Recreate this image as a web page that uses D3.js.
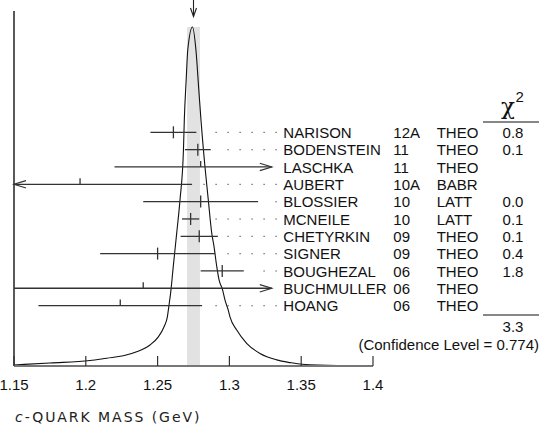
<!DOCTYPE html>
<html>
<head>
<meta charset="utf-8">
<script src="https://cdn.jsdelivr.net/npm/d3@7"></script>
<style>
  html, body { margin: 0; padding: 0; background: #fff; }
  svg { display: block; }
  text { font-family: "Liberation Sans", Arial, sans-serif; fill: #111; }
</style>
</head>
<body>
<div id="chart"></div>
<script>
// ---------------- data ----------------
const names  = ["NARISON", "BODENSTEIN", "LASCHKA", "AUBERT", "BLOSSIER", "MCNEILE",
                "CHETYRKIN", "SIGNER", "BOUGHEZAL", "BUCHMULLER", "HOANG"];
const years  = ["12A", "11", "11", "10A", "10", "10", "09", "09", "06", "06", "06"];
const techs  = ["THEO", "THEO", "THEO", "BABR", "LATT", "LATT", "THEO", "THEO", "THEO", "THEO", "THEO"];
const values = [1.261, 1.278, 1.280, 1.196, 1.280, 1.273, 1.279, 1.250, 1.295, 1.240, 1.224];
const errors = [0.016, 0.009, 0.060, 0.078, 0.040, 0.006, 0.013, 0.040, 0.015, 0.090, 0.057];
const chi2   = ["0.8", "0.1", "", "", "0.0", "0.1", "0.1", "0.4", "1.8", "", ""];
const chi2Total = "3.3";
const confidenceLevel = "0.774";
const average = 1.275;
const averageError = 0.0045;
const xTicks = [1.15, 1.2, 1.25, 1.3, 1.35, 1.4];
const xTickLabels = ["1.15", "1.2", "1.25", "1.3", "1.35", "1.4"];
// ideogram curve (mass in GeV, relative height)
const curveMass = [1.1500, 1.1751, 1.2029, 1.2146, 1.2261, 1.2354, 1.2447, 1.2505, 1.2545,
                   1.2568, 1.2579, 1.2593, 1.2609, 1.2633, 1.2656, 1.2680, 1.2686, 1.2699,
                   1.2710, 1.2743, 1.2767, 1.2787, 1.2802, 1.2830, 1.2853, 1.2877, 1.2893,
                   1.2912, 1.2928, 1.2953, 1.2969, 1.2992, 1.3004, 1.3051, 1.3120, 1.3213,
                   1.3329, 1.3422, 1.3506, 1.3749, 1.4000];
const curveHeight = [0.003, 0.009, 0.016, 0.023, 0.030, 0.042, 0.062, 0.086, 0.116,
                     0.145, 0.178, 0.224, 0.293, 0.392, 0.490, 0.637, 0.726, 0.844,
                     0.932, 1.000, 0.932, 0.814, 0.726, 0.587, 0.490, 0.392, 0.352,
                     0.293, 0.254, 0.224, 0.195, 0.165, 0.145, 0.106, 0.067, 0.037,
                     0.018, 0.010, 0.005, 0.0015, 0.001];
const clipMax = 1.3295;   // error bars beyond this are drawn as arrows

// ---------------- layout ----------------
const W = 546, H = 429;
const x = d3.scaleLinear().domain([1.15, 1.4]).range([14, 373]);
const yCurve = d3.scaleLinear().domain([0, 1]).range([366, 27]);
const yRow = d3.scaleLinear().domain([0, 1]).range([132.3, 149.63]);
const baseY = 366;

const svg = d3.select("#chart").append("svg").attr("width", W).attr("height", H);

// shaded average band
svg.append("rect")
  .attr("x", x(average - averageError))
  .attr("width", x(average + averageError) - x(average - averageError))
  .attr("y", yCurve(1))
  .attr("height", baseY - yCurve(1))
  .attr("fill", "#e2e2e2");

// ideogram curve
const curvePts = curveMass.map((m, i) => [m, curveHeight[i]]);
svg.append("path")
  .datum(curvePts)
  .attr("fill", "none")
  .attr("stroke", "#111")
  .attr("stroke-width", 1.1)
  .attr("d", d3.line().x(d => x(d[0])).y(d => yCurve(d[1])).curve(d3.curveMonotoneX));

// arrow at top pointing to average
const ax = x(average);
svg.append("line").attr("x1", ax).attr("x2", ax).attr("y1", 0).attr("y2", 16)
  .attr("stroke", "#222").attr("stroke-width", 1.1);
svg.append("path")
  .attr("d", `M${ax - 3},${8} L${ax},${16.5} L${ax + 3},${8}`)
  .attr("fill", "none").attr("stroke", "#222").attr("stroke-width", 1.1);

// axes
svg.append("line").attr("x1", x(1.15)).attr("x2", x(1.15)).attr("y1", 11).attr("y2", baseY)
  .attr("stroke", "#222").attr("stroke-width", 1.5);
svg.append("line").attr("x1", x(1.15)).attr("x2", x(1.4)).attr("y1", baseY).attr("y2", baseY)
  .attr("stroke", "#777").attr("stroke-width", 2);
const tickG = svg.append("g");
tickG.selectAll("line").data(xTicks).join("line")
  .attr("x1", d => x(d)).attr("x2", d => x(d))
  .attr("y1", baseY - 10).attr("y2", baseY)
  .attr("stroke", "#333").attr("stroke-width", 1.2);
tickG.selectAll("text").data(xTicks).join("text")
  .attr("x", d => x(d)).attr("y", 389.5)
  .attr("text-anchor", "middle")
  .attr("font-size", 15)
  .text((d, i) => xTickLabels[i]);

// axis title
const title = svg.append("text")
  .attr("x", 15).attr("y", 422)
  .style("font-family", "'DejaVu Sans', sans-serif")
  .style("fill", "#222")
  .attr("font-size", 14)
  .attr("letter-spacing", 1.95);
title.append("tspan").attr("font-style", "italic").text("c");
title.append("tspan").text("-QUARK MASS (GeV)");

// measurements
const rows = svg.append("g");
const dotGrid = d3.range(0, 7).map(k => 204 + 12 * k);
names.forEach((name, i) => {
  const yy = yRow(i);
  const lo = values[i] - errors[i], hi = values[i] + errors[i];
  const x1 = x(Math.max(lo, 1.15)), x2 = x(Math.min(hi, clipMax));
  const g = rows.append("g");
  g.append("line").attr("x1", x1).attr("x2", x2).attr("y1", yy).attr("y2", yy)
    .attr("stroke", "#333").attr("stroke-width", 1.3);
  const included = chi2[i] !== "";
  g.append("line").attr("x1", x(values[i])).attr("x2", x(values[i]))
    .attr("y1", yy - 6).attr("y2", included ? yy + 6 : yy)
    .attr("stroke", "#333").attr("stroke-width", 1.3);
  if (lo < 1.15) {
    g.append("path").attr("d", `M${x1 + 12},${yy - 3.7} L${x1},${yy} L${x1 + 12},${yy + 3.7}`)
      .attr("fill", "none").attr("stroke", "#333").attr("stroke-width", 1.2);
  }
  if (hi > clipMax) {
    g.append("path").attr("d", `M${x2 - 12},${yy - 3.7} L${x2},${yy} L${x2 - 12},${yy + 3.7}`)
      .attr("fill", "none").attr("stroke", "#333").attr("stroke-width", 1.2);
  } else {
    dotGrid.filter(px => px >= x2 + 9).forEach(px => {
      g.append("rect").attr("x", px - 0.5).attr("y", yy - 0.5).attr("width", 1.2).attr("height", 1.2)
        .attr("fill", "#555");
    });
  }
  const ty = yy + 5.6;
  g.append("text").attr("x", 283.3).attr("y", ty).attr("font-size", 15).text(name);
  g.append("text").attr("x", 393.3).attr("y", ty).attr("font-size", 15).text(years[i]);
  g.append("text").attr("x", 436.7).attr("y", ty).attr("font-size", 15).text(techs[i]);
  if (included) {
    g.append("text").attr("x", 513).attr("y", ty).attr("text-anchor", "middle")
      .attr("font-size", 15).text(chi2[i]);
  }
});

// chi2 header
svg.append("text").attr("x", 508).attr("y", 114).attr("text-anchor", "middle")
  .style("font-family", "'DejaVu Serif', serif")
  .attr("font-size", 23).text("χ");
svg.append("text").attr("x", 515.5).attr("y", 102.3).attr("font-size", 15).text("2");
svg.append("line").attr("x1", 483).attr("x2", 539).attr("y1", 122).attr("y2", 122)
  .attr("stroke", "#111").attr("stroke-width", 1);

// totals
svg.append("line").attr("x1", 483).attr("x2", 539).attr("y1", 315).attr("y2", 315)
  .attr("stroke", "#111").attr("stroke-width", 1);
svg.append("text").attr("x", 513).attr("y", 331.7).attr("text-anchor", "middle")
  .attr("font-size", 15).text(chi2Total);
svg.append("text").attr("x", 539).attr("y", 350).attr("text-anchor", "end")
  .attr("font-size", 15).text(`(Confidence Level = ${confidenceLevel})`);
</script>
</body>
</html>
